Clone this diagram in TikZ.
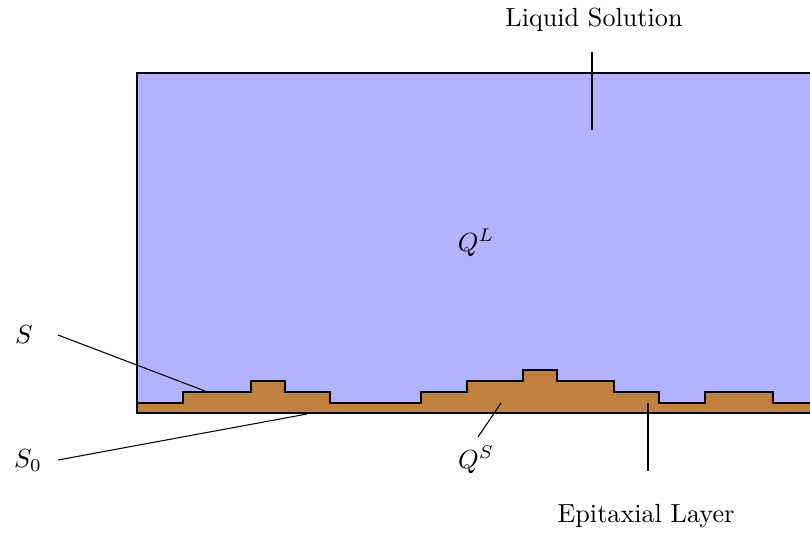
\documentclass[tikz,border=0pt]{standalone}
\begin{document}
\begin{tikzpicture}[x=0.382pt,y=-0.382pt,
  leader/.style={draw=black,line width=0.4pt},
  lbl/.style={inner sep=0pt},
  outline/.style={draw=black,line width=0.4pt}]
\clip (0,0) rectangle (810,536);
\fill[blue!30] (137,73) rectangle (812,413);
\def\profile{(137,403) -- (183,403) -- (183,392) -- (251,392) -- (251,381) -- (285,381) -- (285,392) -- (330,392) -- (330,403) -- (421,403) -- (421,392) -- (467,392) -- (467,381) -- (523,381) -- (523,370) -- (557,370) -- (557,381) -- (614,381) -- (614,392) -- (659,392) -- (659,403) -- (705,403) -- (705,392) -- (773,392) -- (773,403) -- (812,403)}
\fill[brown] \profile -- (812,413) -- (137,413) -- cycle;
\draw[outline] \profile;
\draw[outline] (812,73) -- (137,73) -- (137,413) -- (812,413);
% labels
\node[lbl] (liq) at (594,20) {Liquid Solution};
\node[lbl] (ql) at (476,243) {$Q^L$};
\node[lbl] (s) at (24,335) {$S$};
\node[lbl] (s0) at (28,461) {$S_0$};
\node[lbl] (qs) at (476,460) {$Q^S$};
\node[lbl] (epi) at (646,516) {Epitaxial Layer};
% leader lines
\coordinate (liqA) at (592,52);
\coordinate (liqB) at (592,130);
\coordinate (sA) at (58,335);
\coordinate (sB) at (205,391);
\coordinate (s0A) at (58,460);
\coordinate (s0B) at (307,414);
\coordinate (qsA) at (478,437);
\coordinate (qsB) at (501,403);
\coordinate (epA) at (648,403);
\coordinate (epB) at (648,471);
\draw[leader] (liqA) -- (liqB);
\draw[leader] (sA) -- (sB);
\draw[leader] (s0A) -- (s0B);
\draw[leader] (qsA) -- (qsB);
\draw[leader] (epA) -- (epB);
\end{tikzpicture}
\end{document}
